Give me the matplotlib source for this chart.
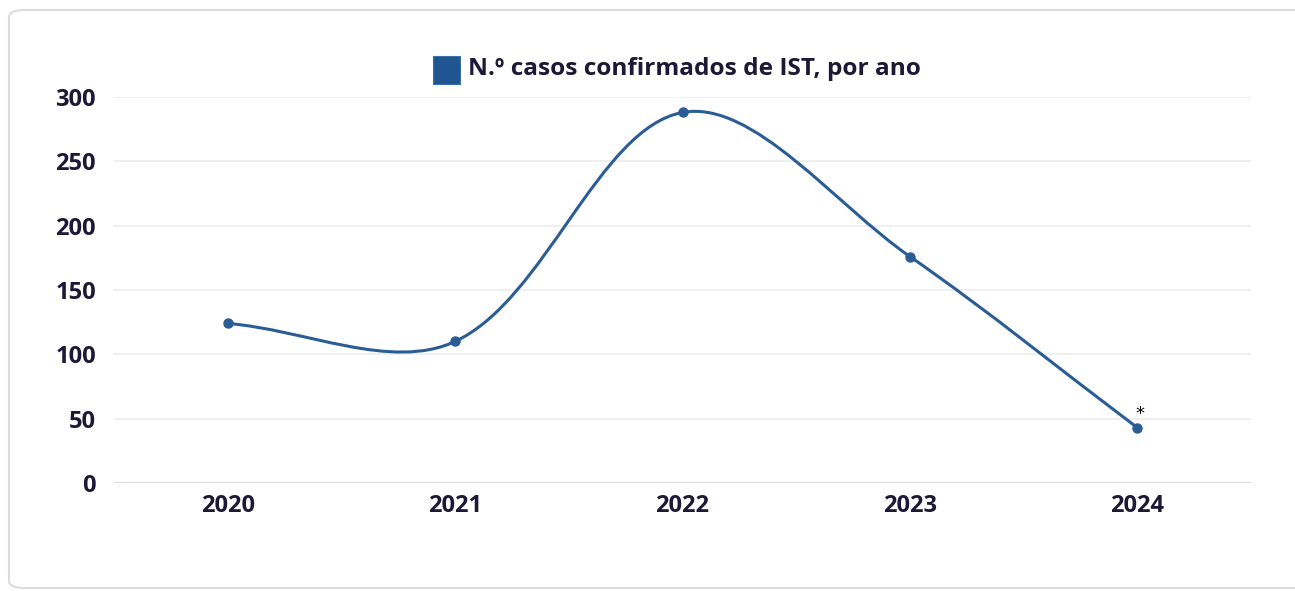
import matplotlib.pyplot as plt
import numpy as np
from matplotlib.path import Path
from matplotlib.patches import PathPatch, Rectangle, FancyBboxPatch

# data
anos = ["2020", "2021", "2022", "2023", "2024"]
casos = [124, 110, 288, 176, 43]
legenda = "N.º casos confirmados de IST, por ano"

W, H = 1295, 591
LINE = "#2a5d95"
TXT = "#1c1836"

plt.rcParams['font.family'] = ['Open Sans', 'DejaVu Sans']

fig = plt.figure(figsize=(W/100, H/100), dpi=100)

def fx(px):
    return px / W

def fy(py):
    return 1 - py / H

# card background with rounded border
card = FancyBboxPatch((fx(9), fy(588)), fx(1400) - fx(9), fy(10) - fy(588),
                      boxstyle="round,pad=0,rounding_size=0.012",
                      transform=fig.transFigure, facecolor="white",
                      edgecolor="#dcdcdc", linewidth=1.5, zorder=-5)
fig.patches.append(card)

ax = fig.add_axes([fx(114), fy(483), fx(1251) - fx(114), fy(97) - fy(483)])
ax.set_facecolor("none")
x = np.arange(len(anos))
ax.set_xlim(-0.5, len(anos) - 0.5)
ax.set_ylim(0, 300)

# Chart.js-like spline, computed in pixel space
sx = (1251 - 114) / len(anos)
sy = 386 / 300.0
px = x * sx
py = np.array(casos, dtype=float) * sy
t = 0.34
n = len(px)
cp_prev = []
cp_next = []
for i in range(n):
    pv = max(i - 1, 0)
    nx = min(i + 1, n - 1)
    d01 = np.hypot(px[i] - px[pv], py[i] - py[pv])
    d12 = np.hypot(px[nx] - px[i], py[nx] - py[i])
    tot = d01 + d12
    s01 = d01 / tot if tot else 0
    s12 = d12 / tot if tot else 0
    fa = t * s01
    fb = t * s12
    dx = px[nx] - px[pv]
    dy = py[nx] - py[pv]
    cp_prev.append((px[i] - fa * dx, min(py[i] - fa * dy, 300 * sy)))
    cp_next.append((px[i] + fb * dx, min(py[i] + fb * dy, 300 * sy)))

verts = [(px[0] / sx, py[0] / sy)]
codes = [Path.MOVETO]
for i in range(n - 1):
    verts += [(cp_next[i][0] / sx, cp_next[i][1] / sy),
              (cp_prev[i + 1][0] / sx, cp_prev[i + 1][1] / sy),
              (px[i + 1] / sx, py[i + 1] / sy)]
    codes += [Path.CURVE4] * 3
ax.add_patch(PathPatch(Path(verts, codes), facecolor="none", edgecolor=LINE,
                       linewidth=2.2, zorder=3, capstyle="round"))
ax.plot(x, casos, linestyle="none", marker="o", markersize=6.5, color=LINE, zorder=4)

# asterisk on the last year
ax.text(x[-1] + 0.012, casos[-1] + 4, "*", fontsize=13, color="black",
        ha="center", va="bottom", family="DejaVu Sans")

# grid
ax.set_yticks(range(0, 301, 50))
ax.set_xticks(x)
ax.set_xticklabels(anos)
ax.yaxis.grid(True, color="#ebebeb", linewidth=1.1)
ax.set_axisbelow(True)
ax.axhline(0, color="#dcdce2", linewidth=1.6, zorder=1)
for s in ax.spines.values():
    s.set_visible(False)
ax.tick_params(length=0, labelsize=17, labelcolor=TXT)
ax.tick_params(axis="y", pad=13)
ax.tick_params(axis="x", pad=8)
for lab in ax.get_xticklabels() + ax.get_yticklabels():
    lab.set_fontweight("bold")

# legend drawn at the top
fig.patches.append(Rectangle((fx(433), fy(84)), fx(460) - fx(433), fy(56) - fy(84),
                             transform=fig.transFigure, facecolor="#1f5590",
                             edgecolor="#3b6fa6", linewidth=0.8))
fig.text(fx(468), fy(69), legenda, fontsize=17.6, fontweight="bold",
         color=TXT, ha="left", va="center")

fig.savefig("out.png", dpi=100)
